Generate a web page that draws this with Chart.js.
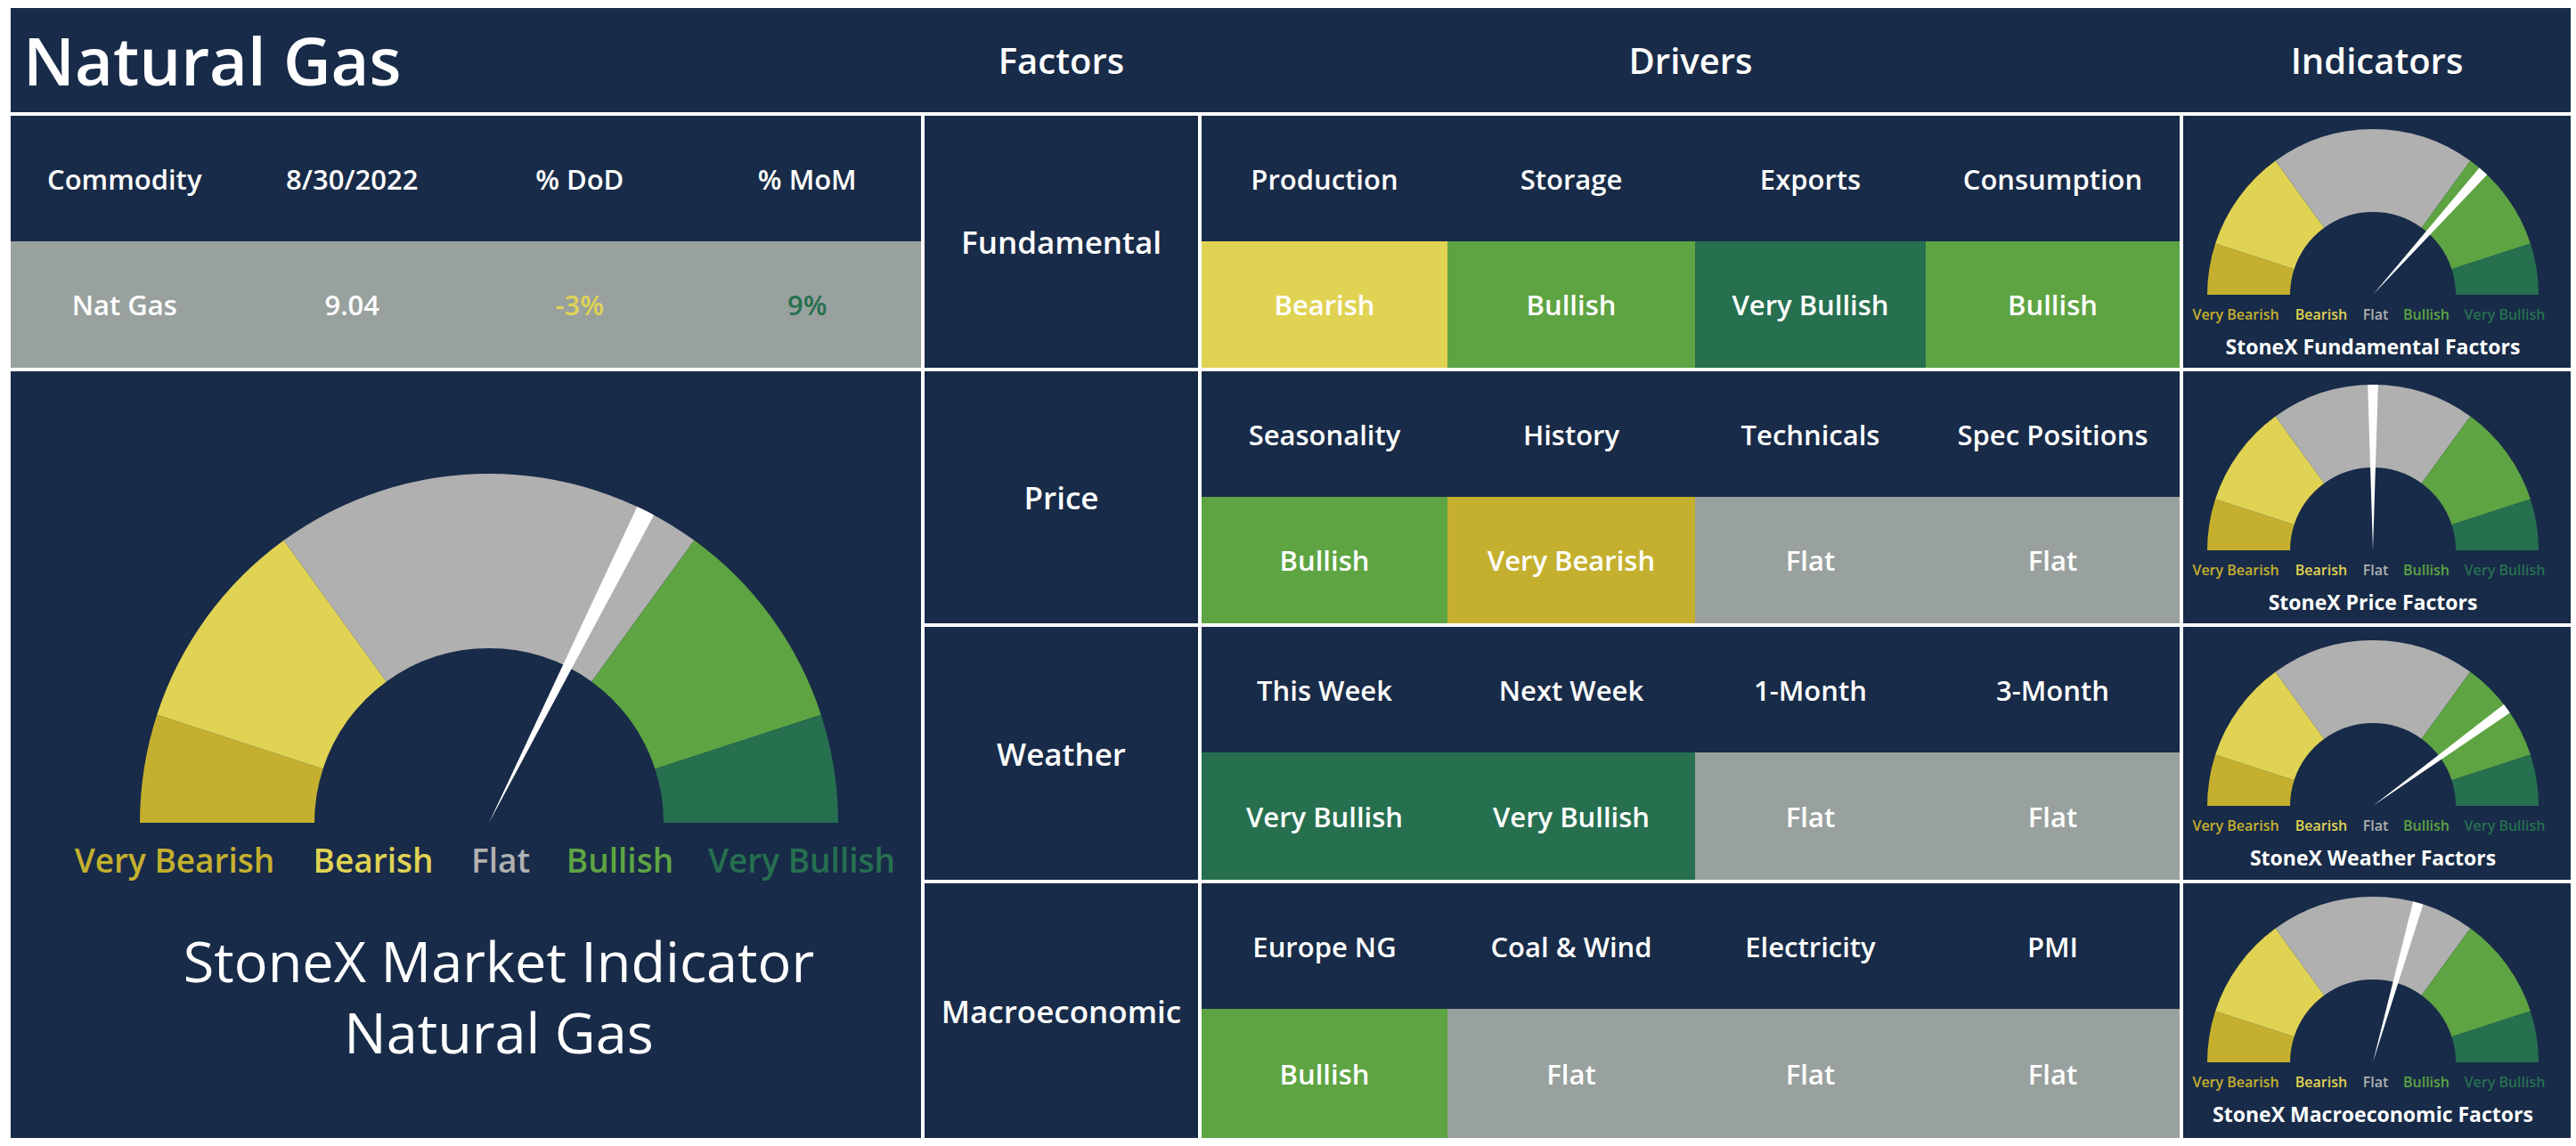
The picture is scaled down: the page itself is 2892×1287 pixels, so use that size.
<!DOCTYPE html>
<html>
<head>
<meta charset="utf-8">
<script src="https://cdn.jsdelivr.net/npm/chart.js@4.4.1/dist/chart.umd.min.js"></script>
<style>
  html, body { margin:0; padding:0; background:#ffffff; }
  body { width:2892px; height:1287px; position:relative; overflow:hidden; font-family:"Open Sans", Lato, sans-serif; }
  .box { position:absolute; background:#182b48; }
  .txt { position:absolute; display:flex; align-items:center; justify-content:center; color:#ffffff; white-space:nowrap; }
  canvas { position:absolute; }
</style>
</head>
<body>
<script>
// ---------------- DATA ----------------
const pageTitle = 'Natural Gas';
const columnTitles = ['Factors', 'Drivers', 'Indicators'];
const commodityHeaders = ['Commodity', '8/30/2022', '% DoD', '% MoM'];
const commodityValues = ['Nat Gas', '9.04', '-3%', '9%'];
const commodityValueTone = ['none', 'none', 'Bearish', 'Very Bullish'];

const gaugeBands = ['Very Bearish', 'Bearish', 'Flat', 'Bullish', 'Very Bullish'];
const gaugeBandShares = [10, 20, 40, 20, 10];

const factorNames = ['Fundamental', 'Price', 'Weather', 'Macroeconomic'];
const fundamentalDrivers = ['Production', 'Storage', 'Exports', 'Consumption'];
const fundamentalSignals = ['Bearish', 'Bullish', 'Very Bullish', 'Bullish'];
const priceDrivers = ['Seasonality', 'History', 'Technicals', 'Spec Positions'];
const priceSignals = ['Bullish', 'Very Bearish', 'Flat', 'Flat'];
const weatherDrivers = ['This Week', 'Next Week', '1-Month', '3-Month'];
const weatherSignals = ['Very Bullish', 'Very Bullish', 'Flat', 'Flat'];
const macroDrivers = ['Europe NG', 'Coal & Wind', 'Electricity', 'PMI'];
const macroSignals = ['Bullish', 'Flat', 'Flat', 'Flat'];

const indicatorTitles = ['StoneX Fundamental Factors', 'StoneX Price Factors', 'StoneX Weather Factors', 'StoneX Macroeconomic Factors'];
const indicatorReadings = [73.2, 50.0, 80.0, 58.8];   // position on 0-100 gauge
const marketTitle = ['StoneX Market Indicator', 'Natural Gas'];
const marketReading = 64.8;

// ---------------- STYLE ----------------
const palette = {
  'Very Bearish': '#c4b02e',
  'Bearish': '#e0d353',
  'Flat': '#b0b0b0',
  'Bullish': '#5ea443',
  'Very Bullish': '#267050',
  'none': '#ffffff'
};
const cellPalette = {
  'Very Bearish': '#c4b02e',
  'Bearish': '#e0d353',
  'Flat': '#99a19e',
  'Bullish': '#5ea443',
  'Very Bullish': '#267050'
};
const NAVY = '#182b48';

const driverSets = [fundamentalDrivers, priceDrivers, weatherDrivers, macroDrivers];
const signalSets = [fundamentalSignals, priceSignals, weatherSignals, macroSignals];

// ---------------- LAYOUT HELPERS ----------------
function box(x, y, w, h, color) {
  const d = document.createElement('div');
  d.className = 'box';
  Object.assign(d.style, {left:x+'px', top:y+'px', width:w+'px', height:h+'px', background:color || NAVY});
  document.body.appendChild(d);
  return d;
}
function text(str, x, y, w, h, size, weight, color, align) {
  const d = document.createElement('div');
  d.className = 'txt';
  d.textContent = str;
  Object.assign(d.style, {left:x+'px', top:y+'px', width:w+'px', height:h+'px',
    fontSize:size+'px', fontWeight:weight, color:color || '#fff',
    justifyContent: align || 'center'});
  document.body.appendChild(d);
  return d;
}

const rowTops = [130, 417, 704, 992];
const rowBottoms = [413, 700, 988, 1278];
const headH = 141;
const leftX = 12, leftR = 1034;
const factX = 1038, factR = 1345;
const drvEdges = [1349, 1625, 1903, 2162, 2447];
const indX = 2451, indR = 2886;

// title bar
box(12, 9, 2874, 117);
text(pageTitle, 26, 9, 600, 117, 74, 600, '#fff', 'flex-start');
text(columnTitles[0], factX, 9, factR - factX, 117, 40, 600);
text(columnTitles[1], drvEdges[0], 9, drvEdges[4] - drvEdges[0], 117, 40, 600);
text(columnTitles[2], indX, 9, indR - indX, 117, 40, 600);

// commodity table
box(leftX, rowTops[0], leftR - leftX, headH);
box(leftX, rowTops[0] + headH, leftR - leftX, rowBottoms[0] - rowTops[0] - headH, '#99a19e');
const cw = (leftR - leftX) / 4;
commodityHeaders.forEach((h, i) => text(h, leftX + i * cw, rowTops[0], cw, headH, 31, 600));
commodityValues.forEach((v, i) => text(v, leftX + i * cw, rowTops[0] + headH, cw, rowBottoms[0] - rowTops[0] - headH, 31, 600, palette[commodityValueTone[i]]));

// big panel
box(leftX, rowTops[1], leftR - leftX, rowBottoms[3] - rowTops[1]);

// factor rows
factorNames.forEach((f, r) => {
  const top = rowTops[r], bot = rowBottoms[r];
  box(factX, top, factR - factX, bot - top);
  text(f, factX, top, factR - factX, bot - top, 35, 600);
  box(drvEdges[0], top, drvEdges[4] - drvEdges[0], bot - top);
  driverSets[r].forEach((d, c) => {
    const x = drvEdges[c], w = drvEdges[c + 1] - drvEdges[c];
    text(d, x, top, w, headH, 31, 600);
    const sig = signalSets[r][c];
    box(x, top + headH, w, bot - top - headH, cellPalette[sig]);
    text(sig, x, top + headH, w, bot - top - headH, 31, 600);
  });
  box(indX, top, indR - indX, bot - top);
});

// ---------------- GAUGES (Chart.js) ----------------
function makeCanvas(x, y, w, h) {
  const c = document.createElement('canvas');
  c.width = w; c.height = h;
  Object.assign(c.style, {left:x+'px', top:y+'px', width:w+'px', height:h+'px'});
  document.body.appendChild(c);
  return c;
}
const baseOpts = {
  responsive:false, animation:false, devicePixelRatio:1,
  rotation:-90, circumference:180,
  layout:{padding:0},
  plugins:{legend:{display:false}, tooltip:{enabled:false}}
};
function gauge(cx, cy, r, reading, needleWidth) {
  const x = cx - r, y = cy - r;
  new Chart(makeCanvas(x, y, 2 * r, r), {
    type:'doughnut',
    data:{labels:gaugeBands, datasets:[{data:gaugeBandShares,
      backgroundColor:gaugeBands.map(b => palette[b]), borderWidth:0}]},
    options:Object.assign({}, baseOpts, {cutout:'50%'})
  });
  new Chart(makeCanvas(x, y, 2 * r, r), {
    type:'pie',
    data:{labels:['before','needle','after'], datasets:[{
      data:[reading - needleWidth / 2, needleWidth, 100 - reading - needleWidth / 2],
      backgroundColor:['rgba(0,0,0,0)', '#ffffff', 'rgba(0,0,0,0)'], borderWidth:0}]},
    options:Object.assign({}, baseOpts)
  });
}

// big gauge
gauge(549, 924, 392, marketReading, 1.7);
const bigLabelCenters = [196, 419, 562, 696, 900];
gaugeBands.forEach((b, i) => text(b, bigLabelCenters[i] - 150, 940, 300, 50, 37, 600, palette[b]));
text(marketTitle[0], 210, 1038, 700, 80, 63, 400);
text(marketTitle[1], 210, 1118, 700, 80, 63, 400);

// small gauges
const smallLabelOffsets = [-154, -58, 3, 60, 148];
indicatorTitles.forEach((t, r) => {
  const cy = rowTops[r] + 201;
  gauge(2664, cy, 186, indicatorReadings[r], 2);
  gaugeBands.forEach((b, i) => text(b, 2664 + smallLabelOffsets[i] - 60, cy + 10, 120, 24, 16, 600, palette[b]));
  text(t, 2664 - 200, cy + 42, 400, 32, 23, 700);
});
</script>
</body>
</html>
